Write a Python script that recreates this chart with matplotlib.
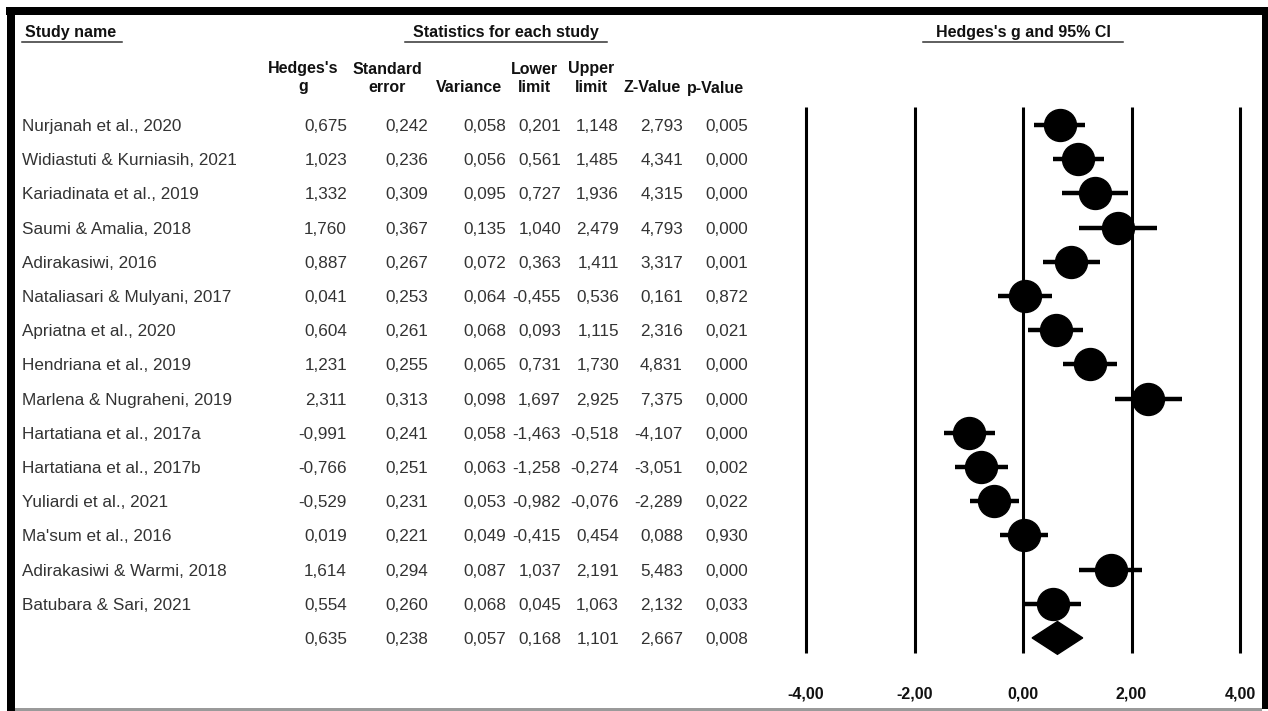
import matplotlib
matplotlib.use("Agg")
import matplotlib.pyplot as plt
from matplotlib.patches import Rectangle
from matplotlib.lines import Line2D
from matplotlib.transforms import blended_transform_factory

plt.rcParams['font.family'] = ['Liberation Sans', 'DejaVu Sans']

studies = [
    "Nurjanah et al., 2020", "Widiastuti & Kurniasih, 2021", "Kariadinata et al., 2019",
    "Saumi & Amalia, 2018", "Adirakasiwi, 2016", "Nataliasari & Mulyani, 2017",
    "Apriatna et al., 2020", "Hendriana et al., 2019", "Marlena & Nugraheni, 2019",
    "Hartatiana et al., 2017a", "Hartatiana et al., 2017b", "Yuliardi et al., 2021",
    "Ma'sum et al., 2016", "Adirakasiwi & Warmi, 2018", "Batubara & Sari, 2021",
]
hedges_g = [0.675, 1.023, 1.332, 1.760, 0.887, 0.041, 0.604, 1.231, 2.311,
            -0.991, -0.766, -0.529, 0.019, 1.614, 0.554]
std_err = [0.242, 0.236, 0.309, 0.367, 0.267, 0.253, 0.261, 0.255, 0.313,
           0.241, 0.251, 0.231, 0.221, 0.294, 0.260]
variance = [0.058, 0.056, 0.095, 0.135, 0.072, 0.064, 0.068, 0.065, 0.098,
            0.058, 0.063, 0.053, 0.049, 0.087, 0.068]
lower = [0.201, 0.561, 0.727, 1.040, 0.363, -0.455, 0.093, 0.731, 1.697,
         -1.463, -1.258, -0.982, -0.415, 1.037, 0.045]
upper = [1.148, 1.485, 1.936, 2.479, 1.411, 0.536, 1.115, 1.730, 2.925,
         -0.518, -0.274, -0.076, 0.454, 2.191, 1.063]
z_value = [2.793, 4.341, 4.315, 4.793, 3.317, 0.161, 2.316, 4.831, 7.375,
           -4.107, -3.051, -2.289, 0.088, 5.483, 2.132]
p_value = [0.005, 0.000, 0.000, 0.000, 0.001, 0.872, 0.021, 0.000, 0.000,
           0.000, 0.002, 0.022, 0.930, 0.000, 0.033]

# pooled estimate
pooled = [0.635, 0.238, 0.057, 0.168, 1.101, 2.667, 0.008]  # g, se, var, lo, hi, z, p

x_ticks = [-4, -2, 0, 2, 4]
x_tick_labels = ["-4,00", "-2,00", "0,00", "2,00", "4,00"]

W, H = 1268, 711


def fx(px):
    return px / W


def fy(py):
    return 1 - py / H


def fmt(v):
    return f"{v:.3f}".replace(".", ",")


fig = plt.figure(figsize=(W / 100, H / 100), dpi=100)
fig.patch.set_facecolor("white")

# forest plot axes: -4 at px 806, 4 at px 1240; rows between py 108 and 655
ax = fig.add_axes([fx(806), fy(655), fx(1240) - fx(806), (655 - 108) / H])
ax.set_xlim(-4, 4)
n_rows = len(studies) + 1
ax.set_ylim(n_rows - 0.5, -0.5)
ax.axis("off")

ax.vlines(x_ticks, -0.53, n_rows - 0.55, color="black", lw=2.2, clip_on=False)

rows = list(range(len(studies)))
ax.hlines(rows, lower, upper, color="black", lw=3.2, zorder=3, clip_on=False)
ax.plot(hedges_g, rows, "o", ms=23, color="black", zorder=4, clip_on=False)

# summary diamond
sr = len(studies)
g0, lo0, hi0 = pooled[0], pooled[3], pooled[4]
ax.fill([lo0, g0, hi0, g0], [sr, sr - 0.48, sr, sr + 0.48], color="black",
        zorder=4, clip_on=False)

# tick labels below
tick_tr = blended_transform_factory(ax.transData, fig.transFigure)
for t, lab in zip(x_ticks, x_tick_labels):
    ax.text(t, fy(694), lab, transform=tick_tr, ha="center", va="center",
            fontsize=11.5, fontweight="bold", color="#111111")

# ---- table ----
row_tr = blended_transform_factory(fig.transFigure, ax.transData)
txt_kw = dict(fontsize=12.3, color="#333333", va="center_baseline", transform=row_tr)
col_right = [347, 428, 506, 561, 619, 683, 748]

for i, name in enumerate(studies):
    fig.text(fx(22), i, name, ha="left", **txt_kw)
    vals = [hedges_g[i], std_err[i], variance[i], lower[i], upper[i],
            z_value[i], p_value[i]]
    for px, v in zip(col_right, vals):
        fig.text(fx(px), i, fmt(v), ha="right", **txt_kw)

for px, v in zip(col_right, pooled):
    fig.text(fx(px), sr, fmt(v), ha="right", **txt_kw)

# column headers
hdr_kw = dict(fontsize=11.5, fontweight="bold", color="#111111", ha="center",
              va="center", linespacing=1.25, multialignment="center")
fig.text(fx(303), fy(78), "Hedges's\ng", **hdr_kw)
fig.text(fx(387), fy(78), "Standard\nerror", **hdr_kw)
fig.text(fx(469), fy(88), "Variance", **hdr_kw)
fig.text(fx(534), fy(78), "Lower\nlimit", **hdr_kw)
fig.text(fx(591), fy(78), "Upper\nlimit", **hdr_kw)
fig.text(fx(652), fy(88), "Z-Value", **hdr_kw)
fig.text(fx(716), fy(88), "p-Value", **hdr_kw)

# top section titles with underlines
fig.text(fx(25), fy(32), "Study name", ha="left", va="center", fontsize=11.5,
         fontweight="bold", color="#111111")
fig.text(fx(506), fy(32), "Statistics for each study", ha="center", va="center",
         fontsize=11.5, fontweight="bold", color="#111111")
fig.text(fx(1023), fy(32), "Hedges's g and 95% CI", ha="center", va="center",
         fontsize=11.5, fontweight="bold", color="#111111")
for x0, x1 in [(22, 122), (405, 607), (923, 1123)]:
    fig.add_artist(Line2D([fx(x0), fx(x1)], [fy(42), fy(42)], color="#333333",
                          lw=1.1, transform=fig.transFigure))

# frame around the picture
frame = [
    (6, 7, 1268, 15, "black"),     # top band
    (7, 7, 15, 711, "black"),      # left band
    (1262, 7, 1268, 709, "black"),  # right band
    (15, 708, 1262, 711, "#9a9a9a"),  # bottom edge
]
for x0, y0, x1, y1, c in frame:
    fig.add_artist(Rectangle((fx(x0), fy(y1)), fx(x1) - fx(x0), (y1 - y0) / H,
                             transform=fig.transFigure, color=c, lw=0))

fig.savefig("out.png", dpi=100)
